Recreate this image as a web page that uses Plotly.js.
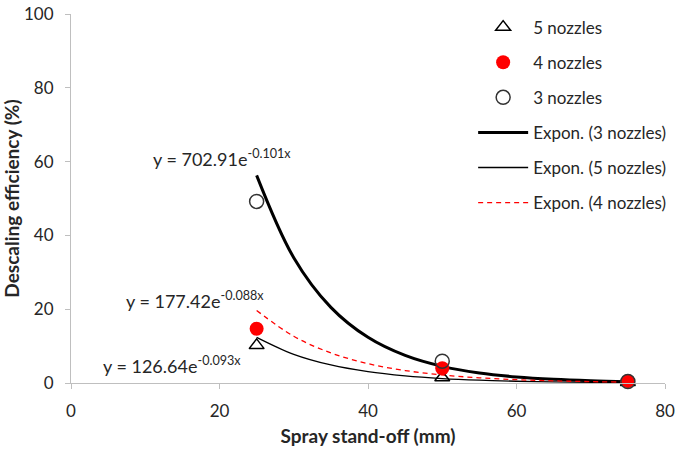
<!DOCTYPE html>
<html><head><meta charset="utf-8">
<script src="https://cdn.plot.ly/plotly-3.0.1.min.js"></script>
<style>body{margin:0;background:#fff}#chart{width:685px;height:450px}</style>
</head><body><div id="chart"></div>
<script>
// Measured points
const standoff = [25, 50, 75];
const nozzles5 = [10.2, 1.5, 0.2];
const nozzles4 = [14.7, 4.0, 0.5];
const nozzles3 = [49.2, 5.9, 0.4];

// Exponential trendlines
const trendX = [25, 30, 35, 40, 45, 50, 55, 60, 65, 70, 75];
const trend3 = [56.28, 33.96, 20.50, 12.37, 7.46, 4.50, 2.72, 1.64, 0.99, 0.60, 0.36];
const trend5 = [12.38, 7.78, 4.89, 3.07, 1.93, 1.21, 0.76, 0.48, 0.30, 0.19, 0.12];
const trend4 = [19.66, 12.66, 8.15, 5.25, 3.38, 2.18, 1.40, 0.90, 0.58, 0.37, 0.24];

const xTicks = [0, 20, 40, 60, 80];
const yTicks = [0, 20, 40, 60, 80, 100];
const eqLabels = ['y = 702.91e<sup>-0.101x</sup>', 'y = 177.42e<sup>-0.088x</sup>', 'y = 126.64e<sup>-0.093x</sup>'];

const FONT = 'Lato, "Liberation Sans", sans-serif';
const TXT = '#262626';

const traces = [
  {x: trendX, y: trend3, mode: 'lines', name: 'Expon. (3 nozzles)', line: {color: '#000', width: 3, shape: 'spline'}, legendrank: 4, legendgroup: 'g4'},
  {x: trendX, y: trend5, mode: 'lines', name: 'Expon. (5 nozzles)', line: {color: '#000', width: 1.3, shape: 'spline'}, legendrank: 5, legendgroup: 'g5'},
  {x: trendX, y: trend4, mode: 'lines', name: 'Expon. (4 nozzles)', line: {color: '#ff0000', width: 1.3, dash: '5px,4px', shape: 'spline'}, legendrank: 6, legendgroup: 'g6'},
  {x: standoff, y: nozzles5, mode: 'markers', name: '5 nozzles', marker: {symbol: 'triangle-up-open', size: 13, color: '#000', line: {width: 1.5}}, legendrank: 1, legendgroup: 'g1', cliponaxis: false},
  {x: standoff, y: nozzles4, mode: 'markers', name: '4 nozzles', marker: {symbol: 'circle', size: 14, color: '#ff0000'}, legendrank: 2, legendgroup: 'g2', cliponaxis: false},
  {x: standoff, y: nozzles3, mode: 'markers', name: '3 nozzles', marker: {symbol: 'circle-open', size: 14, color: '#333', line: {width: 1.5}}, legendrank: 3, legendgroup: 'g3', cliponaxis: false}
];

const layout = {
  width: 685, height: 450,
  margin: {l: 71, r: 20, t: 10, b: 67},
  paper_bgcolor: '#fff', plot_bgcolor: '#fff',
  font: {family: FONT, size: 17, color: TXT},
  xaxis: {
    range: [0, 80], tickvals: xTicks, ticktext: xTicks.map(String),
    showgrid: false, zeroline: false, showline: true, linecolor: '#bfbfbf', linewidth: 1,
    ticks: 'outside', ticklen: 5, tickcolor: '#bfbfbf', ticklabelstandoff: 8,
    tickfont: {size: 17, color: TXT}, ticklabeloverflow: 'allow',
    title: {text: '<b>Spray stand-off (mm)</b>', font: {size: 19, color: TXT}, standoff: 9}
  },
  yaxis: {
    range: [0, 100], tickvals: yTicks, ticktext: yTicks.map(String),
    showgrid: false, zeroline: false, showline: true, linecolor: '#bfbfbf', linewidth: 1,
    ticks: 'outside', ticklen: 5, tickcolor: '#bfbfbf', ticklabelstandoff: 8,
    tickfont: {size: 17, color: TXT}, ticklabeloverflow: 'allow',
    title: {text: '<b>Descaling efficiency (%)</b>', font: {size: 19, color: TXT}, standoff: 3}
  },
  legend: {
    x: 0.677, xanchor: 'left', y: 1.012, yanchor: 'top',
    bgcolor: 'rgba(0,0,0,0)', font: {size: 17, color: TXT},
    tracegroupgap: 10, itemwidth: 50, traceorder: 'grouped'
  },
  annotations: [
    {x: 10.8, y: 60.9, xref: 'x', yref: 'y', text: eqLabels[0], showarrow: false, xanchor: 'left', yanchor: 'middle', font: {size: 18, color: TXT}},
    {x: 7.2, y: 22.5, xref: 'x', yref: 'y', text: eqLabels[1], showarrow: false, xanchor: 'left', yanchor: 'middle', font: {size: 18, color: TXT}},
    {x: 4.0, y: 5.0, xref: 'x', yref: 'y', text: eqLabels[2], showarrow: false, xanchor: 'left', yanchor: 'middle', font: {size: 18, color: TXT}}
  ]
};

Plotly.newPlot('chart', traces, layout, {staticPlot: true});
</script></body></html>
